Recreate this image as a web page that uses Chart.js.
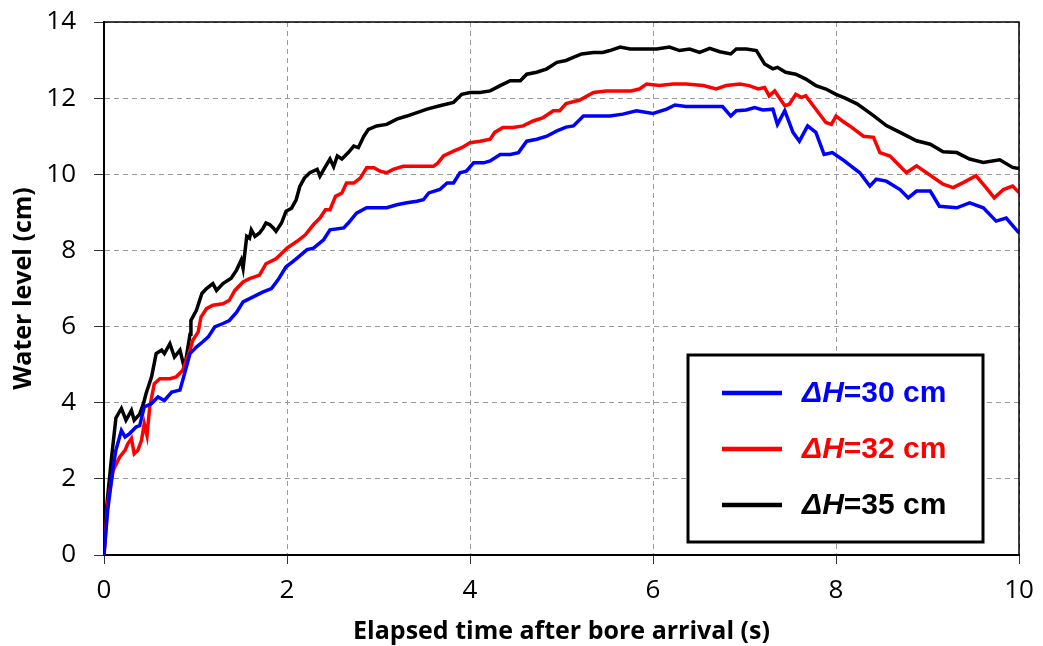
<!DOCTYPE html>
<html>
<head>
<meta charset="utf-8">
<script src="https://cdn.jsdelivr.net/npm/chart.js@4.4.1/dist/chart.umd.min.js"></script>
<style>
  html, body { margin: 0; padding: 0; background: #fff; }
  #wrap { width: 1043px; height: 646px; }
</style>
</head>
<body>
<div id="wrap"><canvas id="c" width="1043" height="646"></canvas></div>
<script>
// time (s) and water level (cm)
const blueT = [0,0.04,0.1,0.13,0.19,0.23,0.28,0.35,0.39,0.44,0.52,0.59,0.66,0.74,0.83,0.88,0.94,1.01,1.08,1.14,1.21,1.3,1.37,1.45,1.52,1.63,1.74,1.83,1.9,1.99,2.06,2.11,2.22,2.29,2.4,2.47,2.62,2.67,2.76,2.87,2.98,3.09,3.2,3.31,3.42,3.49,3.55,3.67,3.75,3.82,3.89,3.96,4.04,4.15,4.22,4.33,4.44,4.53,4.62,4.73,4.84,4.95,5.05,5.13,5.24,5.38,5.53,5.67,5.82,6.0,6.15,6.24,6.36,6.51,6.65,6.76,6.85,6.91,7.02,7.11,7.2,7.31,7.36,7.44,7.53,7.6,7.69,7.78,7.87,7.96,8.07,8.26,8.37,8.44,8.55,8.7,8.79,8.88,9.03,9.13,9.32,9.46,9.61,9.75,9.86,10.0];
const blueV = [0,1.17,2.31,2.75,3.27,3.1,3.19,3.36,3.4,3.89,3.98,4.15,4.06,4.28,4.33,4.76,5.29,5.46,5.6,5.73,5.99,6.08,6.16,6.38,6.65,6.78,6.91,7.0,7.22,7.57,7.7,7.8,8.02,8.06,8.28,8.54,8.59,8.72,8.98,9.12,9.12,9.12,9.2,9.25,9.29,9.33,9.51,9.6,9.77,9.77,10.04,10.08,10.3,10.3,10.35,10.52,10.52,10.57,10.87,10.92,11.0,11.14,11.24,11.27,11.53,11.53,11.53,11.58,11.67,11.6,11.71,11.82,11.78,11.78,11.78,11.78,11.53,11.67,11.69,11.75,11.69,11.71,11.31,11.67,11.1,10.87,11.27,11.1,10.52,10.57,10.39,10.04,9.69,9.87,9.82,9.6,9.38,9.56,9.56,9.16,9.12,9.25,9.12,8.77,8.85,8.46];

const redT = [0,0.04,0.1,0.17,0.23,0.26,0.3,0.33,0.37,0.41,0.44,0.47,0.5,0.55,0.61,0.72,0.79,0.86,0.94,0.97,1.03,1.06,1.12,1.19,1.3,1.37,1.43,1.52,1.59,1.7,1.77,1.88,2.0,2.11,2.2,2.29,2.36,2.42,2.47,2.53,2.6,2.65,2.73,2.8,2.87,2.95,3.02,3.09,3.16,3.27,3.38,3.49,3.6,3.65,3.71,3.82,3.91,4.0,4.11,4.22,4.27,4.36,4.47,4.58,4.69,4.8,4.91,4.98,5.05,5.2,5.35,5.49,5.64,5.76,5.85,5.93,6.07,6.22,6.36,6.55,6.69,6.8,6.95,7.05,7.15,7.22,7.27,7.33,7.44,7.49,7.56,7.62,7.67,7.78,7.89,7.95,8.0,8.07,8.15,8.3,8.41,8.48,8.59,8.77,8.88,8.99,9.17,9.28,9.39,9.53,9.64,9.73,9.83,9.93,10.0];
const redV = [0,1.35,2.22,2.57,2.75,2.92,3.06,2.66,2.75,3.01,3.45,3.14,3.89,4.5,4.63,4.63,4.68,4.85,5.38,5.64,5.86,6.25,6.47,6.56,6.6,6.69,6.95,7.17,7.26,7.35,7.65,7.78,8.06,8.24,8.41,8.68,8.85,9.07,9.07,9.42,9.51,9.77,9.77,9.9,10.17,10.17,10.08,10.04,10.13,10.21,10.21,10.21,10.21,10.3,10.48,10.61,10.7,10.83,10.87,10.92,11.1,11.23,11.23,11.27,11.4,11.49,11.67,11.67,11.86,11.95,12.15,12.19,12.19,12.19,12.24,12.37,12.33,12.37,12.37,12.33,12.24,12.33,12.37,12.33,12.24,12.28,12.06,12.19,11.8,11.84,12.1,12.02,12.06,11.71,11.36,11.31,11.53,11.4,11.27,11.0,10.97,10.57,10.48,10.04,10.22,10.04,9.74,9.65,9.78,9.96,9.65,9.38,9.6,9.69,9.52];

const blackT = [0,0.025,0.08,0.13,0.19,0.24,0.3,0.33,0.39,0.43,0.46,0.52,0.57,0.63,0.66,0.72,0.77,0.83,0.88,0.94,0.95,1.01,1.07,1.12,1.19,1.23,1.3,1.39,1.45,1.5,1.52,1.56,1.59,1.61,1.65,1.7,1.74,1.77,1.81,1.85,1.88,1.94,1.99,2.05,2.1,2.14,2.19,2.25,2.33,2.36,2.42,2.47,2.51,2.55,2.6,2.67,2.73,2.78,2.84,2.89,2.98,3.09,3.2,3.31,3.42,3.53,3.67,3.82,3.91,4.0,4.11,4.22,4.33,4.44,4.55,4.62,4.73,4.84,4.95,5.05,5.09,5.22,5.35,5.45,5.53,5.64,5.75,5.89,6.04,6.18,6.29,6.4,6.51,6.62,6.73,6.85,6.91,7.02,7.13,7.22,7.31,7.36,7.45,7.56,7.67,7.78,7.89,8.0,8.1,8.23,8.41,8.55,8.7,8.88,9.03,9.17,9.32,9.46,9.61,9.79,9.93,10.0];
const blackV = [0,1.17,2.5,3.6,3.85,3.54,3.8,3.54,3.7,3.97,4.24,4.68,5.29,5.38,5.29,5.55,5.2,5.38,4.9,5.8,6.16,6.43,6.87,7.0,7.13,6.95,7.13,7.27,7.49,7.75,7.53,8.37,8.32,8.54,8.37,8.46,8.59,8.72,8.68,8.59,8.5,8.72,9.03,9.11,9.33,9.68,9.9,10.04,10.13,9.95,10.2,10.4,10.2,10.48,10.4,10.57,10.74,10.7,11.0,11.18,11.27,11.31,11.45,11.53,11.62,11.71,11.8,11.89,12.1,12.15,12.15,12.19,12.33,12.46,12.46,12.63,12.68,12.77,12.94,12.99,13.03,13.16,13.2,13.2,13.25,13.34,13.29,13.29,13.29,13.34,13.25,13.29,13.2,13.31,13.22,13.16,13.29,13.29,13.25,12.9,12.77,12.81,12.68,12.63,12.5,12.33,12.24,12.1,12.0,11.85,11.54,11.28,11.1,10.88,10.79,10.59,10.57,10.4,10.31,10.38,10.18,10.15];

const seriesNames = ['30', '32', '35'];
const seriesColors = ['#0000ff', '#ff0000', '#000000'];
const xTicks = [0, 2, 4, 6, 8, 10];
const yTicks = [0, 2, 4, 6, 8, 10, 12, 14];

function pts(ts, vs) {
    return ts.map((t, i) => ({ x: t, y: vs[i] }));
}

// frame around plot + boxed legend with italic ΔH
const boxLegend = {
    id: 'boxLegend',
    afterDatasetsDraw(chart) {
        const ca = chart.chartArea;
        const ctx = chart.ctx;
        ctx.save();
        ctx.strokeStyle = '#000';
        ctx.lineWidth = 1.5;
        ctx.beginPath();
        ctx.moveTo(ca.left, ca.top);
        ctx.lineTo(ca.right, ca.top);
        ctx.lineTo(ca.right, ca.bottom);
        ctx.stroke();
        ctx.restore();
    },
    afterDraw(chart) {
        const ca = chart.chartArea;
        const ctx = chart.ctx;
        const bx = ca.right - 331, by = ca.bottom - 200, bw = 295, bh = 187;
        ctx.save();
        ctx.fillStyle = '#fff';
        ctx.fillRect(bx, by, bw, bh);
        ctx.strokeStyle = '#000';
        ctx.lineWidth = 3;
        ctx.strokeRect(bx, by, bw, bh);
        chart.data.datasets.forEach(function(ds, i) {
            let y = by + 38 + i * 56;
            ctx.strokeStyle = ds.borderColor;
            ctx.lineWidth = 4.5;
            ctx.beginPath();
            ctx.moveTo(bx + 34, y);
            ctx.lineTo(bx + 94, y);
            ctx.stroke();
            ctx.fillStyle = ds.borderColor;
            ctx.textBaseline = 'middle';
            ctx.font = 'italic bold 30px "Liberation Sans", Arial';
            let x = bx + 114;
            ctx.fillText('ΔH', x, y + 1);
            x += ctx.measureText('ΔH').width;
            ctx.font = 'bold 30px "Liberation Sans", Arial';
            ctx.fillText('=' + seriesNames[i] + ' cm', x, y + 1);
        });
        ctx.restore();
    }
};

new Chart(document.getElementById('c'), {
    type: 'line',
    data: {
        datasets: [
            { label: 'ΔH=30 cm', data: pts(blueT, blueV), borderColor: seriesColors[0] },
            { label: 'ΔH=32 cm', data: pts(redT, redV), borderColor: seriesColors[1] },
            { label: 'ΔH=35 cm', data: pts(blackT, blackV), borderColor: seriesColors[2] }
        ]
    },
    options: {
        responsive: false,
        animation: false,
        layout: { padding: { left: 0, right: 24, top: 22, bottom: 0 } },
        elements: {
            line: { borderWidth: 3.5, tension: 0 },
            point: { radius: 0 }
        },
        scales: {
            x: {
                type: 'linear',
                min: 0,
                max: 10,
                afterBuildTicks: function(s) { s.ticks = xTicks.map(v => ({ value: v })); },
                afterFit: function(s) {
                    s.height = 91;
                    s.paddingLeft = 0;
                    s.paddingRight = 0;
                },
                grid: {
                    color: '#9a9a9a',
                    tickBorderDash: [],
                    tickColor: '#333',
                    tickLength: 9
                },
                border: { color: '#000', width: 2, dash: [5, 4] },
                ticks: { color: '#000', padding: 11, font: { family: 'Open Sans', size: 26 } },
                title: {
                    display: true,
                    text: 'Elapsed time after bore arrival (s)',
                    color: '#000',
                    font: { family: 'Open Sans', size: 25, weight: 'bold', lineHeight: 1.1 },
                    padding: { top: 0, bottom: 0 }
                }
            },
            y: {
                min: 0,
                max: 14,
                afterBuildTicks: function(s) { s.ticks = yTicks.map(v => ({ value: v })); },
                afterFit: function(s) {
                    s.width = 104;
                    s.paddingTop = 0;
                    s.paddingBottom = 0;
                },
                grid: {
                    color: '#9a9a9a',
                    tickBorderDash: [],
                    tickColor: '#333',
                    tickLength: 10
                },
                border: { color: '#000', width: 2, dash: [5, 4] },
                ticks: { color: '#000', padding: 18, font: { family: 'Open Sans', size: 26 } },
                title: {
                    display: true,
                    text: 'Water level (cm)',
                    color: '#000',
                    font: { family: 'Open Sans', size: 25, weight: 'bold', lineHeight: 1.1 },
                    padding: { top: 10, bottom: 10 }
                }
            }
        },
        plugins: {
            legend: { display: false },
            tooltip: { enabled: false }
        }
    },
    plugins: [boxLegend]
});
</script>
</body>
</html>
